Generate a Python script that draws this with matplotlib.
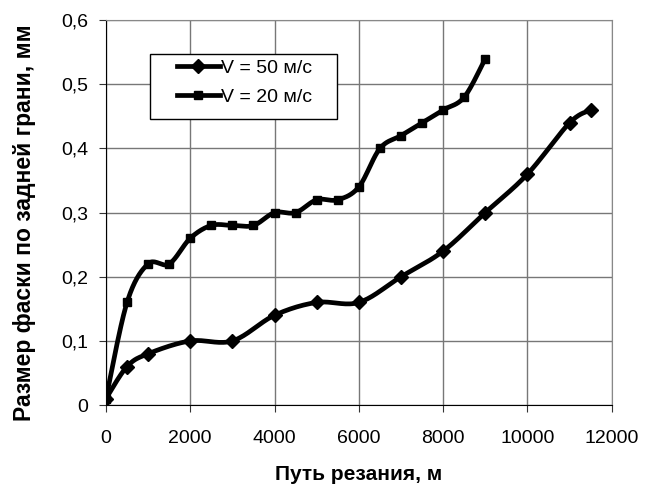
import numpy as np
import matplotlib
matplotlib.use("Agg")
import matplotlib.pyplot as plt
from matplotlib.ticker import FuncFormatter
from matplotlib.patches import Rectangle

plt.rcParams['font.family'] = ['Liberation Sans', 'DejaVu Sans']

# V = 50 m/s
x50 = [0, 500, 1000, 2000, 3000, 4000, 5000, 6000, 7000, 8000, 9000, 10000, 11000, 11500]
y50 = [0.01, 0.06, 0.08, 0.10, 0.10, 0.14, 0.16, 0.16, 0.20, 0.24, 0.30, 0.36, 0.44, 0.46]

# V = 20 m/s
x20 = [0, 500, 1000, 1500, 2000, 2500, 3000, 3500, 4000, 4500, 5000, 5500,
       6000, 6500, 7000, 7500, 8000, 8500, 9000]
y20 = [0.01, 0.16, 0.22, 0.22, 0.26, 0.28, 0.28, 0.28, 0.30, 0.30, 0.32, 0.32,
       0.34, 0.40, 0.42, 0.44, 0.46, 0.48, 0.54]


def smooth(x, y, n=20):
    # Catmull-Rom style smoothing, similar to Excel's smoothed lines
    x = np.asarray(x, float)
    y = np.asarray(y, float)
    px = np.concatenate([[x[0]], x, [x[-1]]])
    py = np.concatenate([[y[0]], y, [y[-1]]])
    xs, ys = [], []
    t = np.linspace(0, 1, n)
    for i in range(1, len(px) - 2):
        p0 = np.array([px[i], py[i]])
        p3 = np.array([px[i + 1], py[i + 1]])
        p1 = p0 + (np.array([px[i + 1], py[i + 1]]) - np.array([px[i - 1], py[i - 1]])) / 6
        p2 = p3 - (np.array([px[i + 2], py[i + 2]]) - np.array([px[i], py[i]])) / 6
        b = ((1 - t) ** 3)[:, None] * p0 + (3 * (1 - t) ** 2 * t)[:, None] * p1 \
            + (3 * (1 - t) * t ** 2)[:, None] * p2 + (t ** 3)[:, None] * p3
        xs.extend(b[:, 0])
        ys.extend(b[:, 1])
    return xs, ys


fig = plt.figure(figsize=(6.46, 4.91), dpi=100)
ax = fig.add_axes([0.164, 0.175, 0.783, 0.784])

sx, sy = smooth(x50, y50)
ax.plot(sx, sy, color='black', lw=3.4, solid_capstyle='round', zorder=3)
ax.plot(x50, y50, 'D', color='black', ms=7, zorder=4)

sx, sy = smooth(x20, y20)
ax.plot(sx, sy, color='black', lw=3.4, solid_capstyle='round', zorder=3)
ax.plot(x20, y20, 's', color='black', ms=6, zorder=4)

# legend proxies
ax.plot([], [], '-D', color='black', lw=3.4, ms=7, label='V = 50 м/с')
ax.plot([], [], '-s', color='black', lw=3.4, ms=6, label='V = 20 м/с')

ax.set_xlim(0, 12000)
ax.set_ylim(0, 0.6)
ax.set_xticks(np.arange(0, 12001, 2000))
ax.set_yticks(np.arange(0, 0.61, 0.1))
ax.yaxis.set_major_formatter(FuncFormatter(lambda v, p: ('%g' % round(v, 1)).replace('.', ',')))
ax.grid(True, color='#777777', lw=1)
ax.set_axisbelow(True)
ax.tick_params(axis='both', labelsize=14, length=5, color='#333333')
ax.tick_params(axis='x', pad=13)
ax.tick_params(axis='y', pad=8)
for s in ax.spines.values():
    s.set_color('#888888')
ax.spines['bottom'].set_color('black')
ax.spines['left'].set_color('black')

ax.set_xlabel('Путь резания, м', fontsize=15, fontweight='bold', labelpad=13)
ax.set_ylabel('Размер фаски по задней грани, мм', fontsize=16.5, fontweight='bold')
ax.yaxis.set_label_coords(-0.138, 0.475)

ax.add_patch(Rectangle((0.087, 0.743), 0.3695, 0.1687, transform=ax.transAxes,
                       facecolor='white', edgecolor='black', lw=1, zorder=5))
leg = ax.legend(loc='upper left', bbox_to_anchor=(0.140, 0.899), fontsize=14,
                frameon=False, handlelength=2.2, handletextpad=0.1,
                borderpad=0, labelspacing=0.6, borderaxespad=0)
leg.set_zorder(6)

fig.savefig('out.png', dpi=100)
